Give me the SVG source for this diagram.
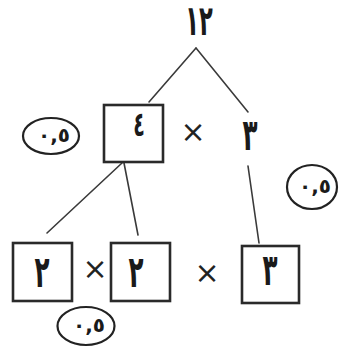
<svg xmlns="http://www.w3.org/2000/svg" width="340" height="347" viewBox="0 0 340 347">
  <style>
    .bg { fill: #ffffff; }
    .box { fill: none; stroke: #2a2a2a; stroke-width: 2.6; }
    .edge { fill: none; stroke: #3a3a3a; stroke-width: 1.6; stroke-linecap: round; }
    .mark { fill: none; stroke: #222222; stroke-width: 2.2; }
    .num { font-family: "DejaVu Sans", sans-serif; font-weight: bold; fill: #1a1a1a; text-anchor: middle; }
    .times { font-family: "DejaVu Sans", sans-serif; fill: #222222; text-anchor: middle; font-size: 30px; }
    .score { font-family: "DejaVu Sans", sans-serif; font-weight: bold; fill: #1a1a1a; text-anchor: middle; font-size: 20px; letter-spacing: 5px; }
  </style>
  <rect class="bg" x="0" y="0" width="340" height="347"/>

  <g id="connectors">
    <line class="edge" x1="196" y1="48" x2="149" y2="102"/>
    <line class="edge" x1="196" y1="48" x2="248" y2="112"/>
    <line class="edge" x1="122" y1="163" x2="47" y2="233"/>
    <line class="edge" x1="124" y1="163" x2="138" y2="235"/>
    <line class="edge" x1="248" y1="166" x2="259" y2="243"/>
  </g>

  <g id="root">
    <text class="num" transform="translate(199,35) scale(0.58,1.08)" font-size="39" letter-spacing="8">١٢</text>
  </g>

  <g id="factor-4">
    <rect class="box" x="104" y="105" width="59" height="57"/>
    <text class="num" transform="translate(139,136) scale(0.56,1)" font-size="34">٤</text>
  </g>

  <g id="times-top">
    <text class="times" x="193" y="142">×</text>
  </g>

  <g id="factor-3">
    <text class="num" transform="translate(250,150) scale(0.56,1)" font-size="44">٣</text>
  </g>

  <g id="score-left">
    <ellipse class="mark" cx="51" cy="136" rx="28" ry="18"/>
    <text class="score" x="54" y="142">٠,٥</text>
  </g>

  <g id="score-right">
    <ellipse class="mark" cx="312" cy="187" rx="25" ry="22"/>
    <text class="score" x="315" y="193">٠,٥</text>
  </g>

  <g id="leaf-2a">
    <rect class="box" x="13" y="243" width="59" height="58"/>
    <text class="num" transform="translate(42,287) scale(0.56,1)" font-size="44">٢</text>
  </g>

  <g id="times-left">
    <text class="times" x="95" y="279">×</text>
  </g>

  <g id="leaf-2b">
    <rect class="box" x="111" y="243" width="59" height="58"/>
    <text class="num" transform="translate(136,287) scale(0.56,1)" font-size="44">٢</text>
  </g>

  <g id="times-right">
    <text class="times" x="207" y="283">×</text>
  </g>

  <g id="leaf-3">
    <rect class="box" x="242" y="246" width="57" height="57"/>
    <text class="num" transform="translate(270,285) scale(0.56,1)" font-size="44">٣</text>
  </g>

  <g id="score-bottom">
    <ellipse class="mark" cx="86" cy="326" rx="28.5" ry="19"/>
    <text class="score" x="89" y="332">٠,٥</text>
  </g>
</svg>
